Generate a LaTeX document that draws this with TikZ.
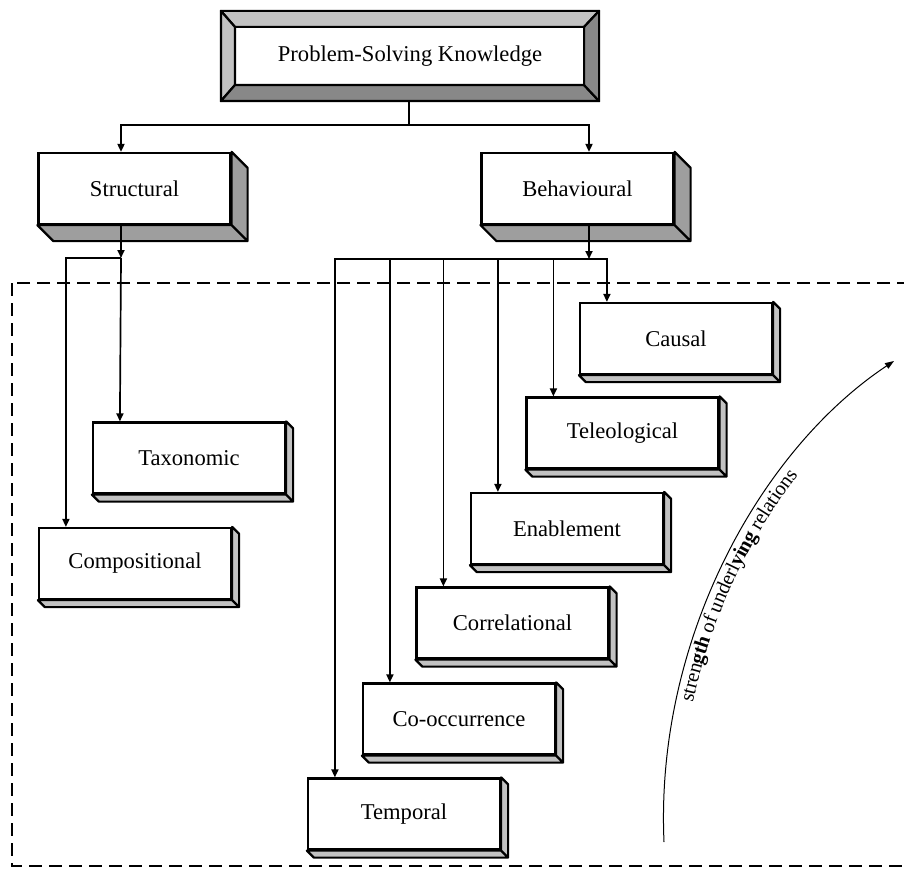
\documentclass[tikz,border=0pt]{standalone}
\usepackage{fontspec}
\setmainfont{Liberation Serif}
\usepackage{xcolor}
\usepackage{tikz}
\usetikzlibrary{arrows.meta,decorations.text}

\definecolor{facelight}{HTML}{C2C2C2}
\definecolor{facemid}{HTML}{9E9E9E}
\definecolor{facedark}{HTML}{888888}
\newcommand\relfont{\fontsize{10.2}{12}\selectfont}

\begin{document}
\begin{tikzpicture}[
  x=0.5pt, y=-0.5pt,
  box/.style={draw, line width=1.1pt, fill=white, inner sep=0pt,
              minimum width=96pt, minimum height=35.5pt,
              font=\fontsize{11.3}{13}\selectfont},
  face/.style={draw, line width=1.1pt, fill=#1, line join=round},
  arr/.style={-{Triangle[length=4pt,width=3.5pt]}, line width=0.85pt},
  conn/.style={line width=0.85pt},
]
\useasboundingbox (0,0) rectangle (904,872);

% frame round the relation types
\draw[line width=0.9pt, dash pattern=on 6.5pt off 3.5pt] (12,283) rectangle (908,866);

% root with bevelled edge
\node[box, minimum width=188pt, minimum height=44pt] (top) at (410,56) {Problem-Solving Knowledge};
\path[face=facelight] (top.north west) -- (top.north east) -- ([shift={(-15,16)}]top.north east)
  -- ([shift={(14,16)}]top.north west) -- cycle;
\path[face=facelight] (top.north west) -- ([shift={(14,16)}]top.north west)
  -- ([shift={(14,-16)}]top.south west) -- (top.south west) -- cycle;
\path[face=facedark] (top.south west) -- (top.south east) -- ([shift={(-15,-16)}]top.south east)
  -- ([shift={(14,-16)}]top.south west) -- cycle;
\path[face=facedark] (top.north east) -- (top.south east) -- ([shift={(-15,-16)}]top.south east)
  -- ([shift={(-15,16)}]top.north east) -- cycle;

\node[box] (struct) at (134.5,188.5) {Structural};
\node[box] (behav)  at (577.5,188.5) {Behavioural};
\node[box] (taxo)   at (189,458)     {Taxonomic};
\node[box] (comp)   at (135,563.5)   {Compositional};
\node[box] (causal) at (676,338.5)   {Causal};
\node[box] (teleo)  at (622.5,433)   {Teleological};
\node[box] (enable) at (567,528.5)   {Enablement};
\node[box] (correl) at (512.5,623)   {Correlational};
\node[box] (cooc)   at (459,719)     {Co-occurrence};
\node[box] (temporal) at (404,814)   {Temporal};

% depth of the boxes
\foreach \n/\d/\c in {struct/16/facemid, behav/16/facemid, taxo/7/facelight,
    comp/7/facelight, causal/7/facelight, teleo/7/facelight, enable/7/facelight,
    correl/7/facelight, cooc/7/facelight, temporal/7/facelight}
  \path[face=\c] (\n.south west) -- ++(\d,\d) -- ([shift={(\d,\d)}]\n.south east)
    -- ([shift={(\d,\d)}]\n.north east) -- (\n.north east) -- (\n.south east) -- cycle
    (\n.south east) -- ++(\d,\d);

\coordinate (tj) at (409,125);
\coordinate (sj) at (121,258);
\coordinate (bj) at (589,259);

\draw[conn] (top.south -| tj) -- (tj);
\draw[arr] (tj) -| ([shift={(-13.5,0)}]struct.north);
\draw[arr] (tj) -| ([shift={(11.5,0)}]behav.north);

\draw[arr] ([shift={(-13.5,0)}]struct.south) -- (sj);
\draw[arr] (sj) -- ([shift={(28,0)}]taxo.north west);
\draw[arr] (sj) -| ([shift={(28,0)}]comp.north west);

\draw[arr] ([shift={(11.5,0)}]behav.south) -- (bj);
\foreach \n in {causal, teleo, enable, correl, cooc, temporal}
  \draw[arr] (bj) -| ([shift={(28,0)}]\n.north west);

% strength arrow
\draw[line width=0.5pt, -{Triangle[length=4.5pt,width=3.2pt]}]
  (664,842) .. controls (655,640) and (760,450) .. (894,361);
\path[decorate, decoration={text along path, raise=-8.5pt,
    text align={left indent=72pt},
    text={|\relfont|stren|\relfont\bfseries|gth|\relfont| of underl|\relfont\bfseries|ying|\relfont| relations}}]
  (664,842) .. controls (655,640) and (760,450) .. (894,361);
\end{tikzpicture}
\end{document}
